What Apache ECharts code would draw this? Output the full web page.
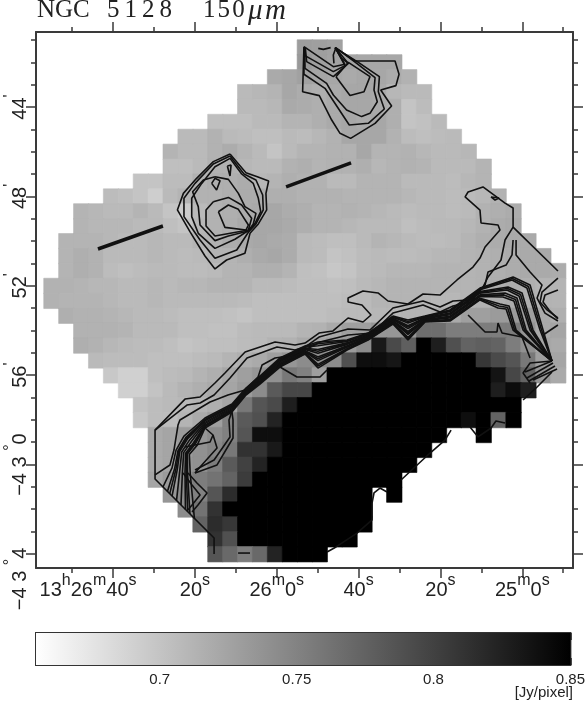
<!DOCTYPE html>
<html>
<head>
<meta charset="utf-8">
<title>NGC 5128 150um</title>
<style>
  html, body { margin: 0; padding: 0; background: #fff; }
  #chart { width: 588px; height: 702px; }
</style>
<script src="https://cdn.jsdelivr.net/npm/echarts@6/dist/echarts.min.js"></script>
</head>
<body>
<div id="chart"></div>
<script>
// map cells, 35 x 35 map pixels, flux in mJy/pixel. rowStart = first filled column of the row
const rowStart = [17,17,15,13,13,11,9,8,8,6,4,2,2,1,1,1,0,0,1,2,2,3,4,5,6,6,7,7,7,7,8,9,10,11,11];
const fluxRows = [
  [730,728,726],
  [733,728,725,724,722,722,722],
  [720,722,727,724,722,720,722,722,718,714],
  [708,710,712,722,718,716,720,722,722,720,710,708,708],
  [708,708,710,720,718,716,720,722,722,720,716,700,706],
  [704,704,704,708,708,712,712,716,720,722,720,722,716,700,702,708],
  [708,708,714,708,706,704,704,708,706,710,714,722,722,722,714,706,704,706,708],
  [712,708,708,714,718,712,708,700,708,712,712,714,714,722,712,712,714,710,708,708,710],
  [704,704,708,714,714,710,708,708,714,716,712,714,714,716,710,712,714,712,708,708,708,712],
  [700,700,706,706,714,716,716,718,710,712,716,714,714,708,708,712,712,712,708,708,708,706,710,712],
  [706,704,700,692,708,712,714,714,716,718,718,716,716,714,714,714,712,712,712,712,710,708,708,706,708,710,714],
  [712,710,708,708,712,708,700,694,708,714,716,718,720,722,718,716,712,712,714,712,710,708,706,708,708,706,708,714,716,718],
  [712,710,710,710,708,708,704,700,710,714,716,720,722,722,720,716,712,712,710,708,708,708,704,706,708,708,710,714,718,720],
  [712,712,712,710,708,708,710,708,708,712,714,718,720,722,720,718,708,706,704,704,708,712,710,708,706,706,708,712,716,718,720,720],
  [712,716,714,708,708,708,710,708,706,708,712,712,716,720,722,718,708,706,700,702,706,708,706,706,708,710,710,712,714,716,718,720,720],
  [712,716,714,706,704,706,708,708,706,706,708,712,712,716,716,712,704,702,698,700,706,708,710,710,710,712,712,712,714,716,718,720,720,718],
  [714,714,712,710,710,708,708,710,708,710,710,712,712,712,708,708,706,704,704,702,704,708,710,712,712,712,712,712,712,714,716,718,716,712,712],
  [714,712,712,712,710,708,708,710,708,708,708,708,708,706,704,704,704,704,704,704,706,708,712,712,712,712,710,710,712,714,716,718,716,712,712],
  [716,714,714,712,710,708,708,706,704,704,704,702,700,704,704,704,704,704,706,708,708,710,710,712,712,716,720,728,728,731,731,728,720,716],
  [714,714,714,712,708,708,708,704,704,702,702,706,708,708,708,712,714,720,728,728,735,735,735,766,766,754,754,754,754,754,735,720,724],
  [716,714,710,708,706,706,704,700,702,704,704,706,708,712,714,720,724,728,731,743,831,793,777,850,827,789,774,777,774,754,739,724,720],
  [708,706,706,706,704,704,704,706,708,712,716,720,728,735,743,743,743,789,839,839,833,850,850,850,850,850,808,793,785,758,728,724],
  [697,691,691,704,706,708,712,716,722,728,735,739,758,751,728,850,850,850,850,850,850,850,850,850,850,850,835,796,774,735,720],
  [691,691,701,708,712,716,720,724,731,743,781,796,796,850,850,850,850,850,850,850,850,850,850,850,850,827,841,827],
  [701,705,708,709,712,716,724,758,785,793,827,850,850,850,850,850,850,850,850,850,850,850,850,850,850,850],
  [697,705,705,712,720,728,751,781,789,823,850,850,850,850,850,850,850,850,850,850,850,850,839,850,774,850],
  [720,724,731,735,743,751,785,839,839,850,850,850,850,850,850,850,850,850,850,850,null,null,850],
  [720,724,731,739,747,758,812,812,831,850,850,850,850,850,850,850,850,850,850],
  [720,724,735,739,754,781,800,823,850,850,850,850,850,850,850,850,850,850],
  [724,731,743,754,762,774,804,850,850,850,850,850,850,850,850,850,850],
  [735,743,751,785,816,850,850,850,850,850,850,850,850,850,null,850],
  [743,762,812,850,850,850,850,850,850,850,850,850,850],
  [774,816,808,850,850,850,850,850,850,850,850,850],
  [812,789,850,850,850,850,850,850,850,850],
  [785,770,754,770,823,850,850,850]
];

// contours, [map column, map row]
const sourceContours = [
  [[12.48,7.65],[13.55,8.90],[14.31,9.17],[15.07,9.46],[14.89,10.29],[14.94,11.40],[14.38,12.34],[13.82,12.97],[13.48,14.31],[12.25,14.76],[11.47,15.36],[10.80,14.49],[9.79,12.86],[8.95,11.40],[9.35,10.29],[10.24,9.28],[11.36,8.16],[12.48,7.65]],
  [[12.48,7.78],[13.42,8.99],[14.22,9.39],[14.67,10.40],[14.71,11.40],[14.22,12.34],[13.71,12.90],[12.93,14.09],[11.47,14.65],[10.47,13.42],[9.39,11.85],[9.39,10.62],[10.13,9.62],[11.36,8.32],[12.48,7.78]],
  [[12.48,7.94],[13.26,8.99],[14.04,9.62],[14.38,10.62],[14.54,11.52],[14.16,12.30],[13.71,12.79],[12.81,13.37],[11.47,13.98],[10.35,12.97],[9.91,11.85],[9.91,10.62],[10.58,9.62],[11.47,8.50],[12.48,7.94]],
  [[11.47,9.17],[12.37,9.35],[13.04,10.29],[13.48,11.18],[14.22,11.63],[14.04,12.34],[13.71,12.82],[12.37,13.15],[11.47,13.46],[10.47,12.41],[10.35,11.18],[9.97,10.18],[10.69,9.39],[11.47,9.17]],
  [[11.36,10.85],[12.37,10.56],[13.26,11.07],[13.93,11.96],[13.71,12.75],[11.47,13.15],[10.87,12.48],[10.87,11.40],[11.36,10.85]],
  [[11.70,11.52],[12.37,11.07],[13.04,11.36],[13.71,12.41],[13.55,12.75],[12.14,12.57],[11.70,11.52]],
  [[11.25,9.62],[11.47,9.28],[11.81,9.44],[11.58,10.06],[11.25,9.62]],
  [[12.30,8.45],[12.55,8.39],[12.48,9.12],[12.30,8.45]]
];
const topContours = [
  [[17.44,0.45],[17.35,3.47],[18.47,3.73],[19.30,5.37],[19.86,6.26],[20.57,6.60],[22.21,5.59],[23.32,4.43],[22.59,3.35],[23.61,3.06],[23.82,2.30],[23.55,1.41],[20.86,1.41],[19.52,0.51]],
  [[17.44,0.51],[17.44,2.30],[18.85,3.24],[20.48,5.70],[21.76,5.59],[22.83,4.63],[22.43,3.47],[22.50,2.46],[21.09,1.50],[19.52,0.51]],
  [[17.49,0.51],[17.51,1.90],[18.96,2.91],[19.41,3.69],[20.30,4.70],[21.31,5.14],[21.87,4.92],[22.36,4.14],[22.14,3.35],[22.21,2.53],[20.98,1.57],[19.57,0.51]],
  [[17.53,0.51],[17.62,1.45],[19.41,2.46],[20.42,1.57],[19.57,0.56]],
  [[17.51,0.51],[17.51,1.05],[19.41,2.12],[20.19,1.72],[19.57,0.56]],
  [[17.44,0.45],[19.41,1.79],[20.19,1.63],[19.52,0.51]],
  [[19.59,2.46],[20.42,1.50],[21.87,2.46],[21.47,3.47],[20.53,3.73],[19.59,2.46]],
  [[19.45,1.57],[19.41,1.01],[19.57,0.56],[19.97,1.23],[20.42,1.57]],
  [[18.40,0.56],[18.74,0.63],[19.23,0.51]]
];
const bandContours = [
  [[11.41,34.48],[11.41,33.41],[10.00,32.00],[7.45,29.45],[7.45,26.17],[9.46,24.09],[10.47,23.95],[11.47,23.01],[12.14,22.34],[13.49,20.93],[15.50,20.26],[16.84,20.46],[17.51,20.33],[18.45,19.66],[19.39,19.52],[20.40,18.65],[21.40,18.92],[21.94,18.45],[21.33,17.78],[20.40,17.58],[20.40,17.31],[21.40,16.84],[22.41,16.97],[23.08,17.51],[24.42,17.71],[25.43,17.04],[26.57,17.11],[27.71,16.10],[28.78,15.23],[29.25,14.63],[29.59,13.89],[30.59,12.75],[30.46,12.41],[29.32,12.28],[29.25,11.41],[28.25,10.53],[28.45,10.20],[29.45,9.86],[30.93,10.94],[31.47,11.27],[31.47,12.55],[34.48,15.50]],
  [[31.47,12.55],[30.93,13.42],[30.66,14.76],[29.79,15.90],[29.45,16.57],[28.45,17.44],[27.44,17.51],[26.57,17.91],[25.43,17.51],[23.41,17.98],[21.87,19.46],[20.40,19.39],[18.45,19.93],[17.51,20.60],[16.84,20.80],[15.63,20.60],[13.62,21.33],[12.48,22.68],[11.41,23.82],[10.47,24.35],[9.59,24.49],[7.45,26.17]],
  [[31.47,13.42],[31.40,14.42],[31.00,15.10],[29.79,15.56],[29.59,16.44],[28.58,17.58],[27.44,17.85],[26.57,18.25],[25.43,17.78],[23.41,18.32],[22.01,19.66],[20.40,19.79],[18.52,20.26],[17.51,20.80],[16.84,21.13],[15.50,21.33],[14.63,21.80],[14.36,22.61],[13.49,23.48],[12.34,23.82],[11.14,24.29],[9.12,25.49],[8.99,25.83],[8.72,27.51],[8.45,28.51],[7.45,29.18]],
  [[31.67,13.42],[31.67,14.42],[32.61,15.56],[33.41,16.44],[33.08,17.31],[33.61,18.32],[34.48,18.85]],
  [[34.48,15.97],[33.41,16.91],[33.28,17.58],[33.75,18.11],[34.48,18.65]],
  [[34.48,16.77],[33.61,17.11],[33.48,17.58],[33.88,18.11],[34.48,18.72]],
  [[34.48,19.12],[33.48,19.79]],
  [[7.98,29.99],[8.59,28.71],[8.86,27.51],[9.39,26.57],[10.80,25.36],[12.61,24.42],[13.55,23.35],[14.49,22.54],[15.83,21.33],[17.51,20.53],[18.38,20.26],[20.33,20.13],[21.74,19.66],[23.41,18.52],[24.42,18.79],[25.56,18.52],[27.24,18.11],[29.25,16.64],[31.47,15.90],[32.61,16.44],[33.48,19.46],[34.08,21.54]],
  [[8.28,30.29],[8.76,28.77],[8.99,27.55],[9.52,26.66],[10.80,25.46],[12.61,24.50],[13.55,23.42],[14.49,22.62],[15.83,21.42],[17.51,20.61],[18.38,20.51],[20.33,20.23],[21.74,19.73],[23.41,18.60],[24.42,18.98],[25.56,18.58],[27.24,18.22],[29.25,16.75],[31.40,16.10],[32.40,16.64],[33.28,19.46],[34.08,21.54]],
  [[8.59,30.60],[8.94,28.82],[9.11,27.60],[9.64,26.74],[10.80,25.55],[12.61,24.57],[13.55,23.48],[14.49,22.69],[15.83,21.50],[17.51,20.68],[18.38,20.76],[20.33,20.32],[21.74,19.79],[23.41,18.67],[24.42,19.17],[25.56,18.63],[27.24,18.32],[29.25,16.87],[31.13,16.57],[32.07,16.97],[32.81,19.46],[34.08,21.54]],
  [[8.89,30.90],[9.11,28.87],[9.24,27.64],[9.77,26.83],[10.80,25.65],[12.61,24.65],[13.55,23.55],[14.49,22.77],[15.83,21.59],[17.51,20.76],[18.38,21.01],[20.33,20.42],[21.74,19.86],[23.41,18.75],[24.42,19.36],[25.56,18.69],[27.24,18.43],[29.25,16.98],[31.06,16.77],[31.87,17.18],[32.61,19.46],[34.08,21.54]],
  [[9.19,31.20],[9.29,28.93],[9.37,27.68],[9.90,26.92],[10.80,25.74],[12.61,24.73],[13.55,23.62],[14.49,22.85],[15.83,21.68],[17.51,20.84],[18.38,21.26],[20.33,20.51],[21.74,19.93],[23.41,18.82],[24.42,19.55],[25.56,18.75],[27.24,18.53],[29.25,17.10],[30.93,16.97],[31.73,17.31],[32.34,19.46],[34.08,21.54]],
  [[9.49,31.50],[9.46,28.98],[9.50,27.73],[10.03,27.01],[10.80,25.84],[12.61,24.81],[13.55,23.69],[14.49,22.93],[15.83,21.77],[17.51,20.92],[18.38,21.51],[20.33,20.61],[21.74,20.00],[23.41,18.90],[24.42,19.75],[25.56,18.81],[27.24,18.64],[29.25,17.21],[30.79,17.24],[31.53,17.51],[32.14,19.46],[34.08,21.54]],
  [[9.79,31.80],[9.63,29.03],[9.62,27.77],[10.15,27.09],[10.80,25.94],[12.61,24.88],[13.55,23.75],[14.49,23.00],[15.83,21.85],[17.51,20.99],[18.38,21.76],[20.33,20.71],[21.74,20.06],[23.41,18.97],[24.42,19.94],[25.56,18.86],[27.24,18.75],[29.25,17.32],[30.59,17.71],[31.20,17.85],[31.67,19.46],[34.08,21.54]],
  [[10.09,32.10],[9.81,29.09],[9.75,27.81],[10.28,27.18],[10.80,26.03],[12.61,24.96],[13.55,23.82],[14.49,23.08],[15.83,21.94],[17.51,21.07],[18.38,22.01],[20.33,20.80],[21.74,20.13],[23.41,19.05],[24.42,20.13],[25.56,18.92],[27.24,18.85],[29.25,17.44],[30.46,17.98],[31.00,18.05],[31.47,19.46],[34.08,21.54]],
  [[15.83,21.37],[17.51,20.57],[18.38,20.38],[20.33,20.18],[21.74,19.69],[23.41,18.56],[24.42,18.88],[25.56,18.55],[27.24,18.16],[29.25,16.69],[31.43,16.00],[32.50,16.54],[33.38,19.46],[34.08,21.54]],
  [[15.83,21.55],[17.51,20.72],[18.38,20.88],[20.33,20.37],[21.74,19.82],[23.41,18.71],[24.42,19.26],[25.56,18.66],[27.24,18.37],[29.25,16.92],[31.10,16.67],[31.97,17.07],[32.71,19.46],[34.08,21.54]],
  [[15.83,21.72],[17.51,20.88],[18.38,21.38],[20.33,20.56],[21.74,19.96],[23.41,18.86],[24.42,19.65],[25.56,18.78],[27.24,18.58],[29.25,17.15],[30.86,17.10],[31.63,17.41],[32.24,19.46],[34.08,21.54]],
  [[15.83,21.89],[17.51,21.03],[18.38,21.88],[20.33,20.75],[21.74,20.09],[23.41,19.01],[24.42,20.03],[25.56,18.89],[27.24,18.80],[29.25,17.38],[30.52,17.84],[31.10,17.95],[31.57,19.46],[34.08,21.54]],
  [[8.43,30.45],[8.85,28.80],[9.05,27.57],[9.58,26.70],[10.80,25.50],[12.61,24.53],[13.55,23.45],[14.49,22.65],[15.83,21.46]],
  [[9.64,31.65],[9.55,29.00],[9.56,27.75],[10.09,27.05],[10.80,25.89],[12.61,24.85],[13.55,23.72],[14.49,22.96],[15.83,21.81]],
  [[10.13,29.05],[11.61,28.51],[12.68,26.70],[12.68,25.49],[12.61,24.96]],
  [[10.13,28.85],[11.41,28.18],[12.48,26.63],[12.41,25.49],[12.61,24.90]],
  [[10.13,29.05],[10.47,28.65],[11.61,27.37],[11.34,26.50],[10.80,26.03]],
  [[9.46,27.31],[11.14,26.97],[11.34,26.50]],
  [[9.66,29.05],[10.26,29.72],[10.94,30.39],[10.33,31.20],[9.93,31.66]],
  [[9.33,29.05],[9.93,29.86],[10.47,30.53],[9.93,31.20],[9.66,31.53]],
  [[15.83,21.94],[16.97,22.61],[18.52,22.61],[18.99,22.14]],
  [[28.45,18.45],[29.59,19.59],[30.39,19.59],[30.46,18.99],[30.73,19.66],[32.07,19.93],[32.61,21.33]],
  [[34.08,21.54],[32.61,21.67],[32.14,22.34],[32.61,23.01]],
  [[32.27,22.27],[34.08,21.54]],
  [[32.40,22.68],[34.15,21.67]],
  [[32.54,22.88],[34.28,21.87]],
  [[32.81,22.81],[34.42,22.07]],
  [[18.99,34.35],[19.59,34.01],[21.00,33.08],[22.01,32.20],[22.01,31.06],[22.14,30.39],[22.54,30.06],[23.01,30.32]],
  [[23.95,29.52],[25.90,27.71],[26.90,26.84],[27.31,26.17]],
  [[28.58,25.96],[29.12,26.63],[29.99,26.03],[30.32,25.56],[30.93,25.70]],
  [[32.14,24.15],[33.08,23.28],[34.08,22.27]],
  [[29.99,10.53],[30.53,10.60],[30.26,10.74],[29.99,10.53]],
  [[13.02,34.42],[13.82,34.42]]
];
const jetLines = [
  [[3.62,14.02],[7.98,12.48]],
  [[16.24,9.86],[20.60,8.25]]
];

// axes: RA in seconds after 13h25m (runs right to left), Dec in arcmin below -42d
const raRange = [-12.39, 118.82];
const decRange = [40.644, 64.63];
const raMajor = [100, 80, 60, 40, 20, 0];
const raMinor = [110, 90, 70, 50, 30, 10, -10];
const raLabels = ['{d|13}{u|h}{d|26}{u|m}{d|40}{u|s}{pad|}', '{d|20}{u|s}', '{d|26}{u|m}{d|0}{u|s}', '{d|40}{u|s}', '{d|20}{u|s}', '{d|25}{u|m}{d|0}{u|s}'];
const decMajor = [44, 48, 52, 56, 60, 64];
const decMinor = [41, 42, 43, 45, 46, 47, 49, 50, 51, 53, 54, 55, 57, 58, 59, 61, 62, 63];
const decLabels = ['{d|44}{u|\'}', '{d|48}{u|\'}', '{d|52}{u|\'}', '{d|56}{u|\'}', '{d|\u22124 3 }{u|\u00b0}{d|0}', '{d|\u22124 3 }{u|\u00b0}{d|4}{pad|}'];

// colour bar
const barRange = [0.6548, 0.85];
const barMajor = [0.7, 0.75, 0.8, 0.85];
const barMinor = [0.66, 0.67, 0.68, 0.69, 0.71, 0.72, 0.73, 0.74, 0.76, 0.77, 0.78, 0.79, 0.81, 0.82, 0.83, 0.84];

const ink = '#3a3a3a';
const sans = 'Liberation Sans';
const labelRich = {
  d: { fontFamily: sans, fontSize: 20, color: '#222', padding: [7, 0, 0, 0], verticalAlign: 'bottom' },
  u: { fontFamily: sans, fontSize: 16, color: '#222', verticalAlign: 'top' },
  pad: { width: 50 }
};

// same grey as the visualMap, used for a hairline round each cell so no seams show
function cellGrey(v) {
  const t = Math.min(1, (v - barRange[0]) / (barRange[1] - barRange[0]));
  const g = Math.round(255 * (1 - t));
  return 'rgb(' + g + ',' + g + ',' + g + ')';
}

const cells = [];
fluxRows.forEach((row, j) => {
  row.forEach((v, k) => {
    if (v === null) return;
    cells.push({
      value: [rowStart[j] + k, j, v / 1000],
      itemStyle: { borderColor: cellGrey(v / 1000), borderWidth: 0.6 }
    });
  });
});
const mapIndex = Array.from({ length: 35 }, (_, i) => i);

function raAxis(position, values, tickLen, showLine, labels) {
  return {
    type: 'value', gridIndex: 1, position: position, inverse: true,
    min: raRange[0], max: raRange[1],
    axisLine: { show: showLine, onZero: false, lineStyle: { color: ink, width: 2 } },
    axisTick: { show: true, length: tickLen, customValues: values, lineStyle: { color: ink, width: 1.5 } },
    splitLine: { show: false },
    axisLabel: labels ? {
      show: true, customValues: values, margin: 5, rich: labelRich,
      formatter: v => labels[raMajor.indexOf(v)]
    } : { show: false }
  };
}
function decAxis(position, values, tickLen, showLine, labels) {
  return {
    type: 'value', gridIndex: 1, position: position, inverse: true,
    min: decRange[0], max: decRange[1],
    axisLine: { show: showLine, onZero: false, lineStyle: { color: ink, width: 2 } },
    axisTick: { show: true, length: tickLen, customValues: values, lineStyle: { color: ink, width: 1.5 } },
    splitLine: { show: false },
    axisLabel: labels ? {
      show: true, customValues: values, margin: 6, rotate: 90, rich: labelRich,
      formatter: v => labels[decMajor.indexOf(v)]
    } : { show: false }
  };
}
function barAxis(position, values, tickLen, labels) {
  return {
    type: 'value', gridIndex: 2, position: position,
    min: barRange[0], max: barRange[1],
    axisLine: { show: false },
    axisTick: { show: true, inside: true, length: tickLen, customValues: values, lineStyle: { color: '#222', width: 1.5 } },
    splitLine: { show: false },
    axisLabel: labels ? {
      show: true, customValues: values, margin: 7, color: '#222', fontFamily: sans, fontSize: 15,
      showMinLabel: true, showMaxLabel: true, formatter: v => String(v)
    } : { show: false }
  };
}
function lineSeries(points, width) {
  return {
    type: 'line', xAxisIndex: 1, yAxisIndex: 1, data: points, showSymbol: false, symbol: 'none',
    clip: false, silent: true, z: 5, animation: false,
    lineStyle: { color: '#111', width: width }
  };
}

const titleStyle = { fontFamily: 'Liberation Serif', fontWeight: 'normal', fontSize: 25, color: '#222' };

const chart = echarts.init(document.getElementById('chart'), null, { renderer: 'canvas' });
chart.setOption({
  animation: false,
  backgroundColor: '#fff',
  title: [
    { text: 'NGC', left: 32, top: -7, textStyle: titleStyle },
    { text: '5\u20091\u20092\u20098', left: 102, top: -7, textStyle: titleStyle },
    { text: '1\u200a5\u200a0', left: 198, top: -7, textStyle: titleStyle },
    { text: '\u03bc\u200am', left: 243, top: -8, textStyle: Object.assign({}, titleStyle, { fontStyle: 'italic', fontSize: 29 }) },
    { text: '[Jy/pixel]', right: 10, top: 680, textStyle: { fontFamily: sans, fontWeight: 'normal', fontSize: 15, color: '#222' } }
  ],
  grid: [
    { left: 44, top: 40, width: 521.7, height: 521.7, show: false },
    { left: 36, top: 32, width: 537, height: 536, show: false },
    { left: 36, top: 633, width: 537, height: 32, show: true, borderColor: '#333', borderWidth: 2 }
  ],
  visualMap: {
    show: false, seriesIndex: 0, min: barRange[0], max: barRange[1], dimension: 2,
    inRange: { color: ['#ffffff', '#000000'] }
  },
  xAxis: [
    { type: 'category', gridIndex: 0, data: mapIndex, show: false },
    { type: 'value', gridIndex: 0, min: 0, max: 35, show: false },
    raAxis('bottom', raMajor, 10, true, raLabels),
    raAxis('top', raMajor, 10, true),
    raAxis('bottom', raMinor, 5, false),
    raAxis('top', raMinor, 5, false),
    barAxis('bottom', barMajor, 7, true),
    barAxis('top', barMajor, 7, false),
    barAxis('bottom', barMinor, 4, false),
    barAxis('top', barMinor, 4, false)
  ],
  yAxis: [
    { type: 'category', gridIndex: 0, data: mapIndex, inverse: true, show: false },
    { type: 'value', gridIndex: 0, min: 0, max: 35, inverse: true, show: false },
    decAxis('left', decMajor, 10, true, decLabels),
    decAxis('right', decMajor, 10, true),
    decAxis('left', decMinor, 5, false),
    decAxis('right', decMinor, 5, false),
    { type: 'value', gridIndex: 2, min: 0, max: 1, show: false }
  ],
  series: [
    {
      type: 'heatmap', xAxisIndex: 0, yAxisIndex: 0, data: cells, z: 1, silent: true,
      progressive: 0, emphasis: { disabled: true }
    },
    {
      type: 'line', xAxisIndex: 6, yAxisIndex: 6, data: [[barRange[0], 1], [barRange[1], 1]],
      showSymbol: false, symbol: 'none', silent: true, z: 1,
      lineStyle: { width: 0 },
      areaStyle: {
        opacity: 1,
        color: new echarts.graphic.LinearGradient(0, 0, 1, 0, [
          { offset: 0, color: '#ffffff' },
          { offset: 1, color: '#000000' }
        ])
      }
    }
  ].concat(
    sourceContours.map(c => lineSeries(c, 1.6)),
    topContours.map(c => lineSeries(c, 1.6)),
    bandContours.map(c => lineSeries(c, 1.6)),
    jetLines.map(c => lineSeries(c, 3.5))
  )
});
</script>
</body>
</html>
